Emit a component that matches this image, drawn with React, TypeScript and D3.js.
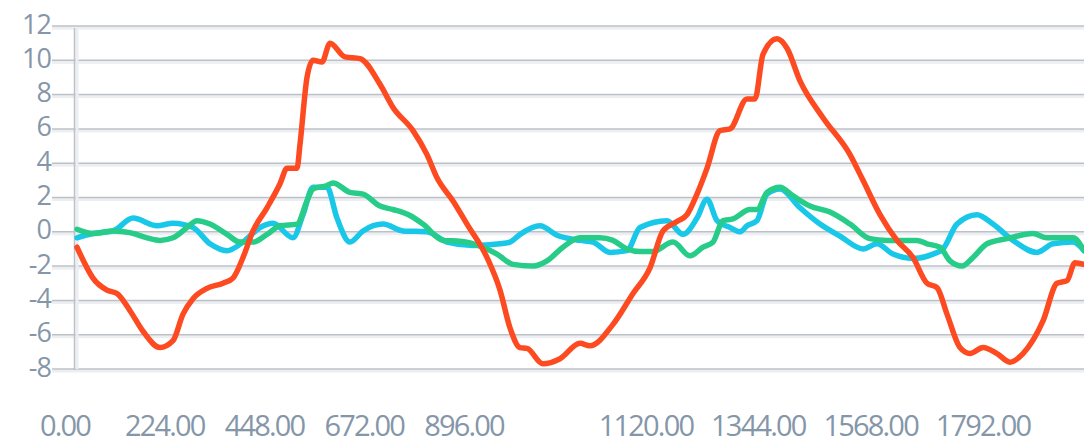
import React, { useEffect, useRef } from 'react';
import * as d3 from 'd3';

// y axis ticks
const yTicks = [12, 10, 8, 6, 4, 2, 0, -2, -4, -6, -8];

// x axis tick labels
const xTicks = [0, 224, 448, 672, 896, 1120, 1344, 1568, 1792];

// series as [t, value] pairs
const redSeries: [number, number][] = [
  [0, -0.9], [20, -2.1], [32, -2.7], [60, -3.4], [80, -3.6], [106, -4.6], [132, -5.8], [166, -6.75],
  [192, -6.35], [212, -4.8], [232, -3.9], [260, -3.3], [292, -3.0], [312, -2.7], [332, -1.5], [352, 0.05],
  [380, 1.4], [406, 2.8], [420, 3.7], [440, 3.7], [446, 5.1], [460, 9.0], [472, 10.0], [490, 9.9],
  [506, 11.0], [536, 10.2], [566, 10.1], [606, 8.6], [632, 7.25], [672, 5.9], [700, 4.5], [720, 3.15],
  [752, 1.8], [780, 0.45], [820, -1.5], [846, -3.4], [866, -5.6], [886, -6.75], [900, -6.8], [932, -7.7],
  [966, -7.4], [1006, -6.5], [1026, -6.65], [1072, -5.4], [1112, -3.6], [1146, -2.1], [1172, 0.05],
  [1200, 0.6], [1220, 1.0], [1240, 2.2], [1260, 3.7], [1286, 5.9], [1306, 6.0], [1340, 7.75], [1356, 7.75],
  [1372, 10.35], [1400, 11.25], [1420, 10.7], [1446, 8.8], [1492, 6.65], [1546, 4.5], [1572, 3.0],
  [1606, 1.0], [1640, -0.5], [1672, -1.5], [1700, -3.0], [1720, -3.25], [1740, -4.8], [1766, -6.75],
  [1786, -7.1], [1812, -6.75], [1840, -7.1], [1866, -7.6], [1892, -7.1], [1932, -5.2], [1960, -3.0],
  [1980, -2.85], [1996, -1.8], [2014, -1.9]
];

const cyanSeries: [number, number][] = [
  [0, -0.35], [32, -0.1], [72, 0.05], [112, 0.8], [160, 0.35], [192, 0.5], [232, 0.25], [266, -0.7],
  [300, -1.1], [332, -0.6], [366, 0.25], [392, 0.5], [432, -0.35], [452, 1.0], [472, 2.6], [500, 2.6],
  [520, 0.8], [546, -0.6], [572, 0.05], [612, 0.45], [652, 0.05], [700, 0], [740, -0.6], [792, -0.8],
  [846, -0.7], [866, -0.6], [886, -0.15], [926, 0.35], [960, -0.2], [1006, -0.5], [1032, -0.6],
  [1066, -1.2], [1100, -1.1], [1126, 0.25], [1180, 0.65], [1212, -0.15], [1240, 0.8], [1260, 1.9],
  [1280, 0.65], [1306, 0.25], [1326, 0], [1340, 0.35], [1360, 0.65], [1380, 2.2], [1406, 2.5],
  [1446, 1.4], [1486, 0.45], [1526, -0.25], [1572, -1.0], [1600, -0.7], [1632, -1.3], [1672, -1.55],
  [1712, -1.3], [1732, -1.0], [1760, 0.45], [1800, 1.0], [1832, 0.45], [1872, -0.5], [1920, -1.2],
  [1952, -0.7], [1992, -0.6], [2014, -1.1]
];

const greenSeries: [number, number][] = [
  [0, 0.15], [32, -0.1], [72, 0.05], [106, -0.05], [140, -0.35], [166, -0.5], [192, -0.35], [220, 0.25],
  [240, 0.65], [266, 0.45], [300, -0.15], [326, -0.6], [352, -0.6], [380, -0.15], [406, 0.35], [440, 0.45],
  [460, 1.8], [472, 2.5], [500, 2.7], [512, 2.85], [546, 2.3], [572, 2.2], [606, 1.5], [632, 1.3],
  [666, 0.95], [692, 0.45], [732, -0.5], [766, -0.55], [812, -0.9], [840, -1.3], [872, -1.9], [912, -2.0],
  [940, -1.7], [972, -0.9], [1006, -0.35], [1046, -0.35], [1072, -0.5], [1100, -1.0], [1126, -1.15],
  [1152, -1.15], [1192, -0.6], [1226, -1.4], [1252, -0.9], [1272, -0.6], [1292, 0.65], [1312, 0.75],
  [1346, 1.3], [1360, 1.3], [1380, 2.3], [1406, 2.6], [1432, 2.1], [1466, 1.5], [1506, 1.15],
  [1546, 0.45], [1586, -0.4], [1620, -0.5], [1680, -0.5], [1700, -0.7], [1726, -0.9], [1746, -1.7],
  [1770, -2.0], [1792, -1.5], [1820, -0.7], [1860, -0.4], [1912, -0.1], [1940, -0.35], [1992, -0.35],
  [2014, -1.1]
];

const seriesList = [
  { name: 'cyan', values: cyanSeries, color: '#19c7e9' },
  { name: 'green', values: greenSeries, color: '#26cc87' },
  { name: 'red', values: redSeries, color: '#fd4a20' },
];

const App = () => {
  const svgRef = useRef<SVGSVGElement>(null);

  useEffect(() => {
    const width = 1084;
    const height = 445;
    const margin = { top: 26, right: 0, bottom: 76, left: 77 };

    const svg = d3.select(svgRef.current);
    svg.selectAll('*').remove();
    svg.attr('width', width).attr('height', height);

    const x = d3.scaleLinear().domain([0, 2014]).range([margin.left, width]);
    const y = d3.scaleLinear().domain([-8, 12]).range([height - margin.bottom, margin.top]);

    // tick labels on the x axis are not evenly spaced in the source
    const xLabel = d3.scaleLinear().domain([0, 896, 1120, 1792]).range([65, 464, 646, 983]);

    const font = '"Open Sans", "Noto Sans", sans-serif';
    const labelColor = '#8596a9';

    // horizontal grid lines
    const grid = svg.append('g');
    yTicks.forEach(t => {
      grid.append('rect')
        .attr('x', 52).attr('y', y(t) + 0.5)
        .attr('width', width - 52).attr('height', 3)
        .attr('fill', '#eceef1');
      grid.append('line')
        .attr('x1', 52).attr('x2', width)
        .attr('y1', y(t)).attr('y2', y(t))
        .attr('stroke', '#bcc1c7').attr('stroke-width', 1.5);
    });

    // vertical axis line
    grid.append('rect')
      .attr('x', 75.5).attr('y', y(12) + 2)
      .attr('width', 3).attr('height', y(-8) - y(12) - 2)
      .attr('fill', '#eceef1');
    grid.append('line')
      .attr('x1', 74.5).attr('x2', 74.5)
      .attr('y1', y(12) + 2).attr('y2', y(-8) + 1)
      .attr('stroke', '#bcc1c7').attr('stroke-width', 1.5);

    // y labels
    svg.append('g')
      .selectAll('text')
      .data(yTicks)
      .join('text')
      .attr('x', 51)
      .attr('y', d => y(d) + 7.5)
      .attr('text-anchor', 'end')
      .attr('font-family', font)
      .attr('font-size', 27)
      .attr('letter-spacing', -1)
      .attr('fill', labelColor)
      .text(d => d);

    // x labels
    svg.append('g')
      .selectAll('text')
      .data(xTicks)
      .join('text')
      .attr('x', d => xLabel(d))
      .attr('y', 436)
      .attr('text-anchor', 'middle')
      .attr('font-family', font)
      .attr('font-size', 29)
      .attr('letter-spacing', -1.8)
      .attr('fill', labelColor)
      .text(d => d.toFixed(2));

    const line = d3.line<[number, number]>()
      .x(d => x(d[0]))
      .y(d => y(d[1]))
      .curve(d3.curveMonotoneX);

    seriesList.forEach(s => {
      svg.append('path')
        .datum(s.values)
        .attr('fill', 'none')
        .attr('stroke', s.color)
        .attr('stroke-width', 5.5)
        .attr('stroke-linejoin', 'round')
        .attr('stroke-linecap', 'round')
        .attr('d', line);
    });
  }, []);

  return (
    <svg
      ref={svgRef}
      style={{ position: 'absolute', left: 0, top: 0, display: 'block', background: '#fff' }}
    ></svg>
  );
};

export default App;
